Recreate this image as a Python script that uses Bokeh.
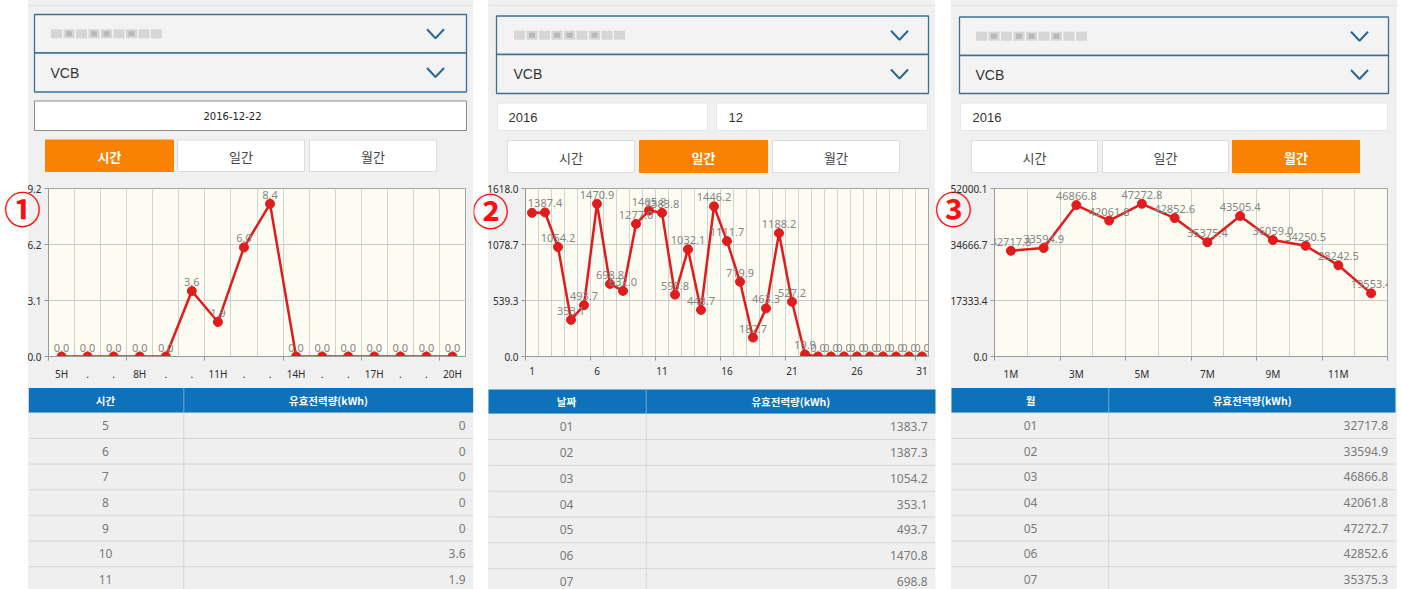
from bokeh.plotting import figure
from bokeh.models import Range1d, FixedTicker, NumeralTickFormatter
from bokeh.layouts import column, row
from bokeh.embed import file_html
from bokeh.resources import INLINE
from bokeh.core.properties import value

# ---------------- data ----------------
hours = list(range(5, 21))
hour_tick_labels = ["5H", ".", ".", "8H", ".", ".", "11H", ".", ".", "14H", ".", ".", "17H", ".", ".", "20H"]
hourly_kwh = [0.0, 0.0, 0.0, 0.0, 0.0, 3.6, 1.9, 6.0, 8.4, 0.0, 0.0, 0.0, 0.0, 0.0, 0.0, 0.0]

days = list(range(1, 32))
day_ticks = [1, 6, 11, 16, 21, 26, 31]
daily_kwh = [1383.7, 1387.4, 1054.2, 353.1, 493.7, 1470.9, 698.8, 632.0, 1277.0, 1405.8,
             1383.8, 595.8, 1032.1, 448.7, 1446.2, 1111.7, 719.9, 182.7, 463.3, 1188.2,
             527.2, 19.9, 0.0, 0.0, 0.0, 0.0, 0.0, 0.0, 0.0, 0.0, 0.0]

months = list(range(1, 13))
month_ticks = [1, 3, 5, 7, 9, 11]
monthly_kwh = [32717.8, 33594.9, 46866.8, 42061.8, 47272.8, 42852.6, 35375.4, 43505.4,
               36059.0, 34250.5, 28242.5, 19553.4]

table_hours = ["5", "6", "7", "8", "9", "10", "11"]
table_hour_kwh = ["0", "0", "0", "0", "0", "3.6", "1.9"]
table_days = ["01", "02", "03", "04", "05", "06", "07"]
table_day_kwh = ["1383.7", "1387.3", "1054.2", "353.1", "493.7", "1470.8", "698.8"]
table_months = ["01", "02", "03", "04", "05", "06", "07"]
table_month_kwh = ["32717.8", "33594.9", "46866.8", "42061.8", "47272.7", "42852.6", "35375.3"]

panel_marks = ["①", "②", "③"]

RED = "#e01c1c"
ORANGE = "#f98200"
BLUE = "#0d72b9"
KR = "Noto Sans CJK KR"
W = 1402


def base_fig(w, h, xr, yr):
    p = figure(width=w, height=h, x_range=Range1d(*xr), y_range=Range1d(*yr),
               output_backend="svg", toolbar_location=None,
               x_axis_type=None, y_axis_type=None, min_border=0)
    p.grid.visible = False
    p.outline_line_color = None
    p.border_fill_color = None
    p.background_fill_color = None
    return p


# ---------------- top band (selectors / buttons) ----------------
top = base_fig(W, 180, (0, W), (180, 0))

# faint tab-bar remnants at the very top of each phone screen
top.segment(x0=[28, 488, 951], y0=[5, 5, 5], x1=[473, 935, 1397], y1=[5, 5, 5],
            line_color="#e2e2e2", line_width=1)

panels_top = [
    # x0, x1, y0, ymid, y1, chevron x, label x, blur x
    (34, 466, 14, 52.5, 91.5, 435, 50, 50),
    (496, 928, 15.5, 54, 93, 899, 513, 513),
    (959, 1388, 16.5, 55, 93, 1359, 975, 975),
]
for (x0, x1, y0, ym, y1, cx, lx, bx) in panels_top:
    top.quad(left=[x0, x0], right=[x1, x1], top=[y0, ym], bottom=[ym, y1],
             fill_color="#f3f3f3", line_color="#3d6f94", line_width=1.3)
    c1 = (y0 + ym) / 2
    c2 = (ym + y1) / 2
    top.multi_line(xs=[[cx - 8.5, cx, cx + 8.5], [cx - 8.5, cx, cx + 8.5]],
                   ys=[[c1 - 4.5, c1 + 4.5, c1 - 4.5], [c2 - 4.5, c2 + 4.5, c2 - 4.5]],
                   line_color="#2a6793", line_width=2)
    # blurred (redacted) plant name
    bxs = [bx + 6 + 12.5 * i for i in range(9)]
    top.rect(x=bxs, y=[c1] * 9, width=11, height=9, fill_color="#bdbdbd",
             fill_alpha=0.55, line_color=None)
    top.rect(x=[bx + 6 + 12.5 * i for i in (1, 3, 4, 6)], y=[c1] * 4, width=6, height=5,
             fill_color="#8c8c8c", fill_alpha=0.4, line_color=None)
    top.text(x=[lx], y=[c2], text=["VCB"], text_font=value("Liberation Sans"),
             text_font_size="14px", text_color="#333333", text_baseline="middle")

# panel 1 date box
top.quad(left=[34], right=[466], top=[100.5], bottom=[130], fill_color="white",
         line_color="#8a8a8a", line_width=1)
top.text(x=[232], y=[115.5], text=["2016-12-22"], text_font=value("DejaVu Sans"),
         text_font_size="10px", text_color="#222222", text_align="center", text_baseline="middle")
# panel 2 year / month boxes
top.quad(left=[497, 716], right=[707, 927], top=[102.5, 102.5], bottom=[130, 130],
         fill_color="white", line_color="#e6e6e6", line_width=1)
top.text(x=[508, 728], y=[116.5, 116.5], text=["2016", "12"], text_font=value("Liberation Sans"),
         text_font_size="13px", text_color="#333333", text_baseline="middle")
# panel 3 year box
top.quad(left=[960], right=[1387], top=[102.5], bottom=[130], fill_color="white",
         line_color="#e6e6e6", line_width=1)
top.text(x=[972], y=[116.5], text=["2016"], text_font=value("Liberation Sans"),
         text_font_size="13px", text_color="#333333", text_baseline="middle")

# buttons
btn_labels = ["시간", "일간", "월간"]
buttons = [
    ([45, 177, 309], [173, 304, 436], 139.5, 171, 0),
    ([507, 639, 772], [634, 767, 899], 140, 172, 1),
    ([971, 1102, 1232], [1097, 1228, 1359], 140, 172, 2),
]
for lefts, rights, yt, yb, sel in buttons:
    fills = [ORANGE if i == sel else "white" for i in range(3)]
    lines = [ORANGE if i == sel else "#dcdcdc" for i in range(3)]
    top.quad(left=lefts, right=rights, top=[yt] * 3, bottom=[yb] * 3,
             fill_color=fills, line_color=lines, line_width=1)
    cxs = [(a + b) / 2 for a, b in zip(lefts, rights)]
    for i in range(3):
        top.text(x=[cxs[i]], y=[(yt + yb) / 2 + 0.5], text=[btn_labels[i]],
                 text_font=value(KR), text_font_size="13px",
                 text_font_style="bold" if i == sel else "normal",
                 text_color="white" if i == sel else "#444444",
                 text_align="center", text_baseline="middle")


# ---------------- charts ----------------
def make_chart(xs, ys, xr, tick_pos, tick_labels, minor_pos, width, left, right, label_texts):
    ymax = max(ys) * 1.1
    yt = [0, ymax / 3, 2 * ymax / 3, ymax]
    p = figure(width=width, height=203, x_range=Range1d(*xr), y_range=Range1d(0, ymax),
               output_backend="svg", toolbar_location=None,
               min_border_left=left, min_border_right=right,
               min_border_top=8, min_border_bottom=23)
    p.border_fill_color = None
    p.background_fill_color = "#fdfcf3"
    p.outline_line_color = "#a4a4a4"
    xa = p.xaxis[0]
    ya = p.yaxis[0]
    xa.ticker = FixedTicker(ticks=tick_pos, minor_ticks=minor_pos)
    xa.major_label_overrides = {t: l for t, l in zip(tick_pos, tick_labels)}
    xa.major_tick_out = 0
    xa.major_tick_in = 0
    xa.minor_tick_out = 4
    xa.minor_tick_in = 0
    xa.major_label_standoff = 6
    ya.ticker = FixedTicker(ticks=yt)
    ya.formatter = NumeralTickFormatter(format="0.0")
    ya.major_tick_out = 4
    ya.major_tick_in = 0
    ya.minor_tick_out = 0
    ya.minor_tick_in = 0
    ya.major_label_standoff = 3
    for a in (xa, ya):
        a.axis_line_color = "#999999"
        a.major_tick_line_color = "#999999"
        a.minor_tick_line_color = "#999999"
        a.major_label_text_font = "Noto Sans"
        a.major_label_text_font_size = "10px"
        a.major_label_text_color = "#2e2e2e"
    lo, hi = xr
    p.xgrid.ticker = FixedTicker(ticks=[v + 0.5 for v in range(int(lo + 0.5), int(hi - 0.5))])
    p.xgrid.grid_line_color = "#d2d2d2"
    p.ygrid.ticker = FixedTicker(ticks=yt)
    p.ygrid.grid_line_color = "#cacaca"

    p.line(xs, ys, line_color=RED, line_width=2.5)
    p.scatter(xs, ys, size=9, fill_color=RED, line_color=RED)
    p.text(xs, ys, text=label_texts, text_align="center", text_baseline="bottom",
           y_offset=-5, text_font=value("Noto Sans"), text_font_size="11px",
           text_color="#858585")
    return p


c1 = make_chart(hours, hourly_kwh, (4.5, 20.5), hours, hour_tick_labels,
                [4.5, 7.5, 10.5, 13.5, 16.5, 19.5], 473, 48, 8,
                [f"{v:.1f}" for v in hourly_kwh])
c2 = make_chart(days, daily_kwh, (0.5, 31.5), day_ticks, [str(d) for d in day_ticks],
                [0.5, 5.5, 10.5, 15.5, 20.5, 25.5, 30.5], 462, 52, 7,
                [""] + [f"{v:.1f}" for v in daily_kwh[1:]])
c3 = make_chart(months, monthly_kwh, (0.5, 12.5), month_ticks, [f"{m}M" for m in month_ticks],
                [0.5, 2.5, 4.5, 6.5, 8.5, 10.5, 12.5], 467, 59, 15,
                [f"{v:.1f}" for v in monthly_kwh])


# circled panel numbers: small transparent figures that the charts overlap
def mark_fig(w, cx, cy, mark):
    m = base_fig(w, 203, (0, w), (203, 0))
    m.text(x=[cx], y=[cy], text=[mark], text_font=value(KR), text_font_size="37px",
           text_font_style="bold", text_color="#ff0d0d", text_align="center",
           text_baseline="middle")
    return m


MW = 46
m1 = mark_fig(MW, 22, 24, panel_marks[0])
m2 = mark_fig(MW, 17, 26, panel_marks[1])
m3 = mark_fig(MW, 18, 24, panel_marks[2])
for c in (c1, c2, c3):
    c.margin = (0, 0, 0, -MW)

# ---------------- tables ----------------
bot = base_fig(W, 206, (0, W), (589, 383))
tables = [
    # x0, xdiv, x1, header top, header bottom, row h, col1 center, value right, head1, keys, vals
    (28.3, 183.3, 472.7, 387.5, 412.3, 25.65, 105, 465, "시간", table_hours, table_hour_kwh),
    (488, 645.7, 935, 389, 413.3, 25.8, 566, 927, "날짜", table_days, table_day_kwh),
    (951, 1108.3, 1395, 387.5, 412.3, 25.65, 1030, 1387.5, "월", table_months, table_month_kwh),
]
for (x0, xd, x1, ht, hb, rh, c1x, vr, head, keys, vals) in tables:
    n = len(keys)
    bot.quad(left=[x0], right=[x1], top=[ht], bottom=[hb], fill_color=BLUE, line_color=None)
    bot.segment(x0=[xd], y0=[ht], x1=[xd], y1=[hb], line_color="#6fa8d6", line_width=1)
    bot.text(x=[c1x, (xd + x1) / 2], y=[(ht + hb) / 2, (ht + hb) / 2], text=[head, "유효전력량(kWh)"],
             text_font=value(KR), text_font_size="10.5px", text_font_style="bold",
             text_color="white", text_align="center", text_baseline="middle")
    tops = [hb + i * rh for i in range(n)]
    bots = [hb + (i + 1) * rh for i in range(n)]
    bot.quad(left=[x0] * n, right=[x1] * n, top=tops, bottom=bots,
             fill_color="#efefef", line_color=None)
    bot.segment(x0=[x0] * n, y0=bots, x1=[x1] * n, y1=bots, line_color="#d6d6d6", line_width=1)
    bot.segment(x0=[xd], y0=[hb], x1=[xd], y1=[bots[-1]], line_color="#d6d6d6", line_width=1)
    mids = [(a + b) / 2 for a, b in zip(tops, bots)]
    bot.text(x=[c1x] * n, y=mids, text=keys, text_font=value("Noto Sans"), text_font_size="12px",
             text_color="#7a7a7a", text_align="center", text_baseline="middle")
    bot.text(x=[vr] * n, y=mids, text=vals, text_font=value("Noto Sans"), text_font_size="12px",
             text_color="#7a7a7a", text_align="right", text_baseline="middle")

bg = ("linear-gradient(to right, #ffffff 0px, #ffffff 28px, #f0f0f0 28px, #f0f0f0 473px, "
      "#ffffff 473px, #ffffff 488px, #f0f0f0 488px, #f0f0f0 935px, #ffffff 935px, "
      "#ffffff 951px, #f0f0f0 951px, #f0f0f0 1397px, #ffffff 1397px)")
layout = column(top, row(m1, c1, m2, c2, m3, c3), bot, styles={"background": bg})

open("out.html", "w").write(file_html(layout, INLINE))
